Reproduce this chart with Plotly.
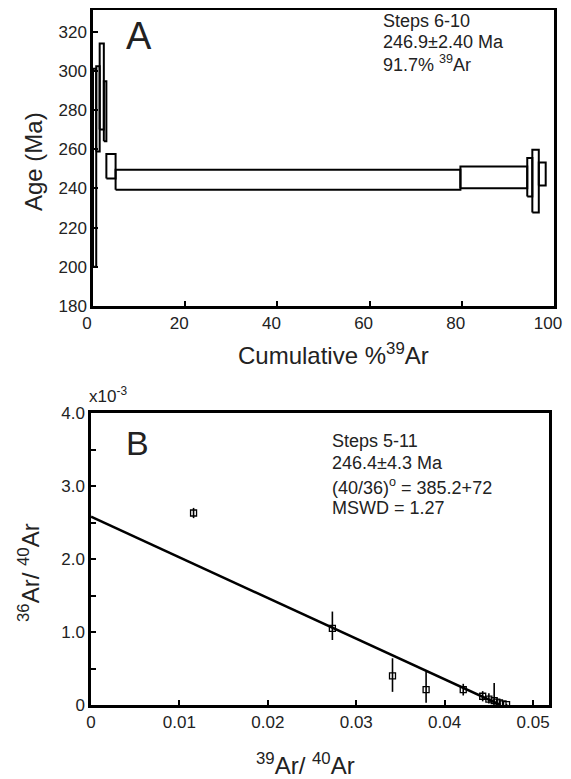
import plotly.graph_objects as go

W, H = 571, 779
OFF = 8  # page body margin of the html page

# ---------------- Panel A: age spectrum ----------------
step_start = [0.0, 0.7, 1.45, 2.35, 2.9, 4.9, 79.7, 94.2, 95.3, 96.7]
step_end = [0.7, 1.45, 2.35, 2.9, 4.9, 79.7, 94.2, 95.3, 96.7, 98.2]
age_lo = [200.0, 258.8, 270.0, 264.0, 245.0, 239.3, 240.1, 235.9, 227.7, 241.5]
age_hi = [301.0, 302.3, 313.9, 294.6, 257.5, 249.5, 251.2, 255.5, 259.7, 253.2]

a_xticks = [0, 20, 40, 60, 80, 100]
a_yticks = [180, 200, 220, 240, 260, 280, 300, 320]

# ---------------- Panel B: inverse isochron ----------------
iso_x = [0.0116, 0.0273, 0.0341, 0.0379, 0.0421, 0.0443, 0.0450, 0.0456, 0.0459, 0.0462, 0.0466, 0.0470]
iso_y = [2.63, 1.05, 0.40, 0.21, 0.21, 0.12, 0.08, 0.06, 0.04, 0.03, 0.015, 0.005]
iso_err_up = [0.07, 0.23, 0.24, 0.25, 0.08, 0.07, 0.08, 0.24, 0.05, 0.03, 0.02, 0.01]
iso_err_dn = [0.07, 0.16, 0.22, 0.18, 0.08, 0.07, 0.06, 0.05, 0.03, 0.02, 0.01, 0.005]

fit_x = [0.0, 0.0463]
fit_y = [2.58, 0.0]

b_xticks = [0, 0.01, 0.02, 0.03, 0.04, 0.05]
b_yticks = [0, 1, 2, 3, 4]
b_yticktext = ["0", "1.0", "2.0", "3.0", "4.0"]

FONT = "Liberation Sans, Arial, sans-serif"
TXT = "#222222"

# build rectangles of the spectrum from the arrays
bx, by = [], []
for x0, x1, lo, hi in zip(step_start, step_end, age_lo, age_hi):
    bx += [x0, x1, x1, x0, x0, None]
    by += [lo, lo, hi, hi, lo, None]

fig = go.Figure()
fig.add_trace(go.Scatter(x=bx, y=by, mode="lines",
                         line=dict(color="black", width=2),
                         xaxis="x", yaxis="y", hoverinfo="skip"))

fig.add_trace(go.Scatter(x=fit_x, y=fit_y, mode="lines",
                         line=dict(color="black", width=2.5),
                         xaxis="x2", yaxis="y2", hoverinfo="skip"))
fig.add_trace(go.Scatter(x=iso_x, y=iso_y, mode="markers",
                         marker=dict(symbol="square-open", size=6, color="black",
                                     line=dict(width=1.3, color="black")),
                         error_y=dict(type="data", array=iso_err_up, arrayminus=iso_err_dn,
                                      thickness=1.6, width=0, color="black"),
                         xaxis="x2", yaxis="y2"))

def px(v):
    return (v - OFF) / W

def py(v):
    return 1 - (v - OFF) / H

axis_common = dict(showline=True, linecolor="black", linewidth=2.5, mirror=True,
                   ticks="inside", ticklen=5, tickwidth=1.5, tickcolor="black",
                   showgrid=False, zeroline=False, automargin=False,
                   tickfont=dict(family=FONT, size=17, color=TXT))

fig.update_layout(
    width=W, height=H,
    margin=dict(l=0, r=0, t=0, b=0),
    paper_bgcolor="white", plot_bgcolor="white",
    showlegend=False,
    xaxis=dict(domain=[px(93), px(554)], range=[0, 100], tickvals=a_xticks,
               ticklabelshift=-6, anchor="y", **axis_common),
    yaxis=dict(domain=[py(306), py(10)], range=[180, 331], tickvals=a_yticks,
               anchor="x", **axis_common),
    xaxis2=dict(domain=[px(91), px(549)], range=[0, 0.0518], tickvals=b_xticks,
                anchor="y2", **axis_common),
    yaxis2=dict(domain=[py(705), py(413)], range=[0, 4], tickvals=b_yticks,
                ticktext=b_yticktext, anchor="x2",
                minor=dict(dtick=0.5, ticks="inside", ticklen=5, tickcolor="black"),
                **axis_common),
)

def ann(text, x, y, size, xanchor="left", yanchor="middle", angle=0):
    fig.add_annotation(text=text, x=px(x), y=py(y), xref="paper", yref="paper",
                       xanchor=xanchor, yanchor=yanchor, showarrow=False,
                       textangle=angle, font=dict(family=FONT, size=size, color=TXT))

# Panel A texts
ann("A", 139, 36, 38, xanchor="center")
ann("Steps 6-10", 381, 21, 18)
ann("246.9±2.40 Ma", 381, 42, 18)
ann("91.7% <sup>39</sup>Ar", 381, 63, 18)
ann("Age (Ma)", 33, 162, 24, xanchor="center", angle=-90)
ann("Cumulative %<sup>39</sup>Ar", 333, 354, 24, xanchor="center")

# Panel B texts
ann("B", 137, 443, 34, xanchor="center")
ann("x10<sup>-3</sup>", 87, 395, 17)
ann("Steps 5-11", 330, 441, 18)
ann("246.4±4.3 Ma", 330, 463, 18)
ann("(40/36)<sup>o</sup> = 385.2+72", 330, 486, 18)
ann("MSWD = 1.27", 330, 508, 18)
ann("<sup>36</sup>Ar/ <sup>40</sup>Ar", 29, 573, 24, xanchor="center", angle=-90)
ann("<sup>39</sup>Ar/ <sup>40</sup>Ar", 305, 764, 24, xanchor="center")

fig.write_html("out.html")
